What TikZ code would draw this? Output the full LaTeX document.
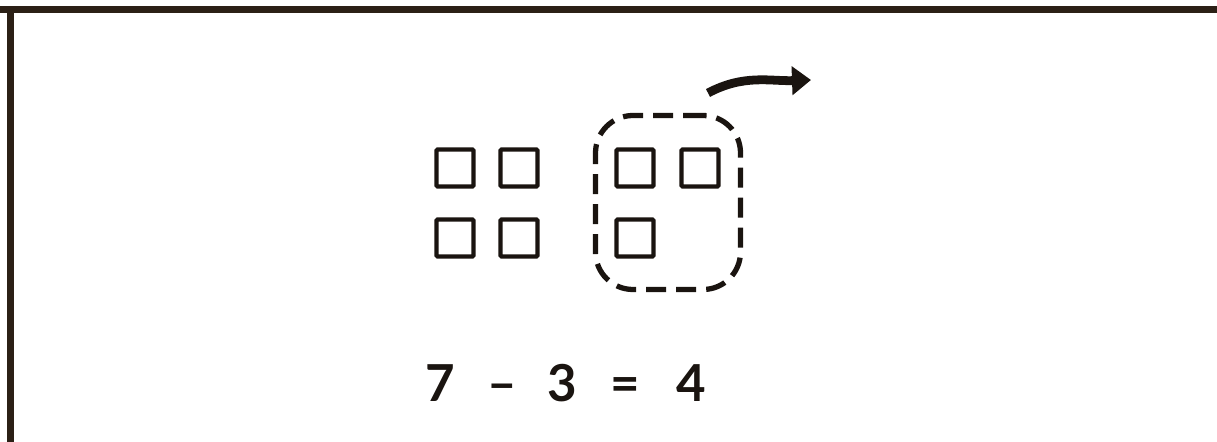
\documentclass[tikz,border=0pt]{standalone}
\usepackage{fontspec}
\setmainfont{Lato}
\usetikzlibrary{arrows.meta}
\definecolor{scan-edge}{HTML}{2B2016}
\definecolor{ink}{HTML}{1A1410}

\begin{document}
\begin{tikzpicture}[every node/.style={font=\fontsize{29}{32}\selectfont\bfseries, text=ink},
    unit/.style={draw=ink, line width=2.3pt, minimum size=0.74cm, inner sep=0pt, rounded corners=0.5pt}]
    \useasboundingbox (0, 0) rectangle (24.34, 8.84);
    % scanned page edge
    \fill[scan-edge] (0, 8.58) rectangle (24.34, 8.72);
    \fill[scan-edge] (0.14, 0) rectangle (0.29, 8.72);

    % seven unit squares
    \node[unit] (u1) at (9.10, 5.48) {};
    \node[unit] (u2) at (10.38, 5.48) {};
    \node[unit] (u3) at (12.70, 5.48) {};
    \node[unit] (u4) at (14.00, 5.48) {};
    \node[unit] (u5) at (9.10, 4.08) {};
    \node[unit] (u6) at (10.38, 4.08) {};
    \node[unit] (u7) at (12.70, 4.08) {};

    % the three taken away
    \node[draw=ink, line width=3pt, dash pattern=on 0.4cm off 0.2cm, rounded corners=0.75cm,
          minimum width=2.9cm, minimum height=3.48cm] (taken) at (13.36, 4.79) {};
    \coordinate (away-from) at (14.16, 6.98);
    \coordinate (away-to) at (16.22, 7.24);
    \draw[ink, line width=5pt, -{Triangle[length=0.38cm, width=0.56cm]}] (away-from) to[out=28, in=182] (away-to);

    % equation
    \node[anchor=base] (n7) at (8.80, 0.80) {7};
    \node[anchor=base] (minus) at (10.04, 0.80) {–};
    \node[anchor=base] (n3) at (11.24, 0.80) {3};
    \node[anchor=base] (eq) at (12.50, 0.80) {=};
    \node[anchor=base] (n4) at (13.82, 0.80) {4};
\end{tikzpicture}
\end{document}
